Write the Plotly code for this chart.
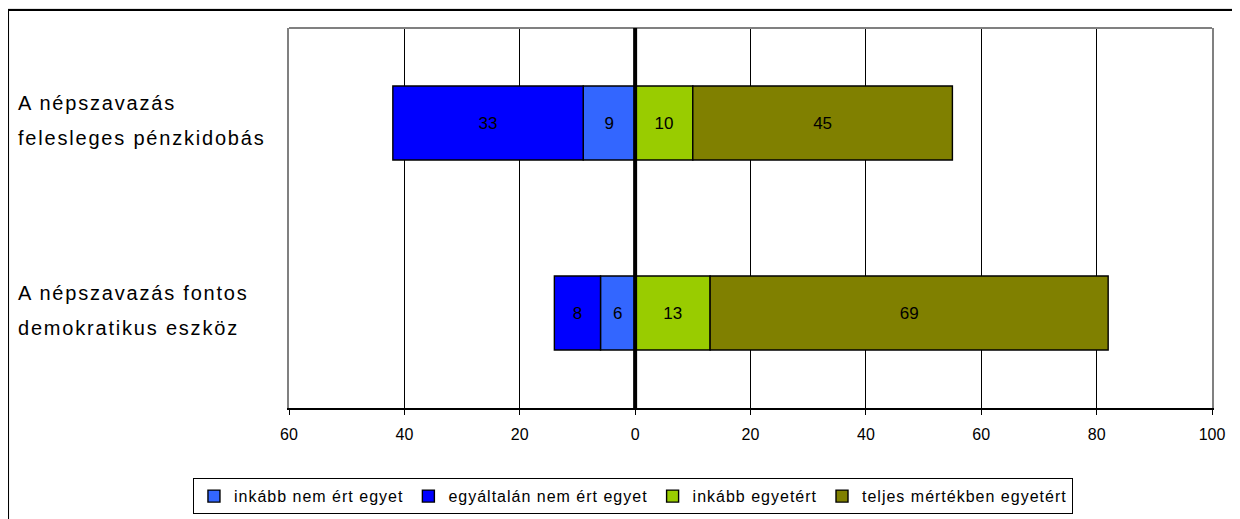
import plotly.graph_objects as go

categories = ["A népszavazás fontos<br>demokratikus eszköz",
              "A népszavazás<br>felesleges pénzkidobás"]
series_names = ["inkább nem ért egyet", "egyáltalán nem ért egyet",
                "inkább egyetért", "teljes mértékben egyetért"]
inkabb_nem = [-6, -9]
egyaltalan_nem = [-8, -33]
inkabb_igen = [13, 10]
teljes = [69, 45]
colors = ["#3366FF", "#0000FF", "#99CC00", "#808000"]
tick_vals = [-60, -40, -20, 0, 20, 40, 60, 80, 100]
tick_text = ["60", "40", "20", "0", "20", "40", "60", "80", "100"]

series_values = [inkabb_nem, egyaltalan_nem, inkabb_igen, teljes]
FONT = "Liberation Sans, Arial, sans-serif"


def spaced(s, px):
    return '<span style="letter-spacing:%spx">%s</span>' % (px, s)


fig = go.Figure()
for name, vals, col in zip(series_names, series_values, colors):
    fig.add_trace(go.Bar(
        name=spaced(name, 1), y=list(range(len(categories))), x=vals,
        orientation="h",
        marker=dict(color=col, line=dict(color="black", width=1.4)),
        text=[str(abs(v)) for v in vals], textposition="inside",
        insidetextanchor="middle", constraintext="none",
        textfont=dict(family=FONT, size=17, color="black"),
        width=0.39, hovertemplate=name + ": %{text}<extra></extra>",
    ))

fig.update_layout(
    barmode="relative",
    width=1240, height=519,
    margin=dict(l=281, r=36, t=20, b=119),
    paper_bgcolor="white", plot_bgcolor="white",
    font=dict(family=FONT, color="black"),
    showlegend=True,
    legend=dict(orientation="h", xref="container", yref="container",
                x=0.504, xanchor="center", y=0.094, yanchor="top",
                bordercolor="black", borderwidth=1, bgcolor="white",
                font=dict(family=FONT, size=16, color="black"),
                traceorder="normal", itemwidth=30, tracegroupgap=0),
    xaxis=dict(range=[-60, 100], tickvals=tick_vals, ticktext=tick_text,
               showgrid=True, gridcolor="black", gridwidth=1,
               zeroline=False, showline=True, linecolor="black",
               linewidth=2, mirror=False, ticks="outside", ticklen=5,
               tickcolor="black", ticklabelstandoff=6,
               tickfont=dict(family=FONT, size=16)),
    yaxis=dict(range=[-0.5, 1.5], tickvals=[0, 1], showticklabels=False,
               showgrid=False, zeroline=False, showline=True,
               linecolor="#808080", linewidth=2, mirror=True),
)

# top frame line (gray)
fig.add_shape(type="line", xref="paper", yref="paper", x0=0, x1=1, y0=1, y1=1,
              line=dict(color="#808080", width=2), layer="above")
# thick zero line on top of bars
fig.add_shape(type="line", xref="x", yref="paper", x0=0, x1=0, y0=0, y1=1,
              line=dict(color="black", width=4), layer="above")
# outer chart border
fig.add_shape(type="rect", xref="paper", yref="paper",
              x0=-0.3044, x1=1.2, y0=-0.4, y1=1.0474,
              line=dict(color="black", width=2), fillcolor="rgba(0,0,0,0)",
              layer="above")
fig.add_shape(type="line", xref="paper", yref="paper",
              x0=-0.32, x1=1.2, y0=1.0526, y1=1.0526,
              line=dict(color="#c8c8c8", width=1), layer="above")

# category labels, left aligned, one annotation per text line
for i, cat in enumerate(categories):
    lines = cat.split("<br>")
    n = len(lines)
    for j, line in enumerate(lines):
        shift = ((n - 1) / 2 - j) * 35 + 3
        fig.add_annotation(xref="paper", yref="y", x=-0.2955, y=i,
                           text=spaced(line, 1.8), showarrow=False,
                           xanchor="left", align="left", yshift=shift,
                           font=dict(family=FONT, size=20, color="black"))

fig.write_html("out.html")
